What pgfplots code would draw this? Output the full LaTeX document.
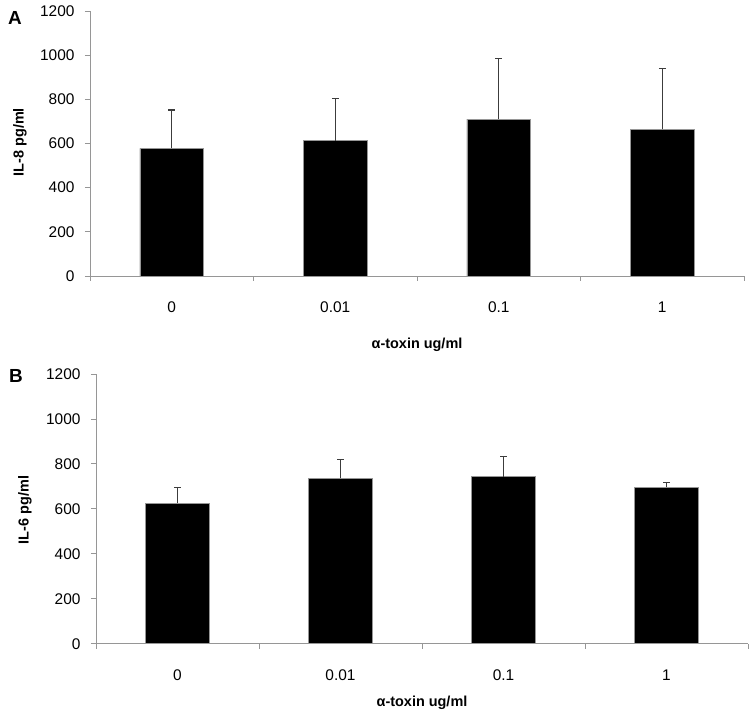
\documentclass[border=0pt]{standalone}
\usepackage{pgfplots}
\pgfplotsset{compat=1.18}
\usepackage{fontspec}
\setmainfont{Liberation Sans}
\definecolor{axgray}{RGB}{150,150,150}
\definecolor{errgray}{RGB}{60,60,60}
\pgfplotsset{
  panel/.style={
    scale only axis,
    anchor=south west,
    xmin=0, xmax=4,
    ymin=0, ymax=1200,
    ytick={0,200,...,1200},
    xtick={0.5,1.5,2.5,3.5},
    xticklabels={0,0.01,0.1,1},
    extra x ticks={0,1,2,3,4},
    extra x tick labels={},
    extra x tick style={major tick length=5bp, xtick style={draw=axgray, line width=0.8bp}},
    axis x line*=bottom,
    axis y line*=left,
    axis line style={axgray, line width=0.8bp, -},
    tick align=outside,
    major tick length=5bp,
    xtick style={draw=none},
    ytick style={axgray, line width=0.8bp},
    /pgf/number format/assume math mode=true,
    /pgf/number format/1000 sep={},
    tick label style={font=\fontsize{15.5}{15.5}\selectfont, text=black},
    yticklabel style={anchor=east, xshift=-7bp},
    xticklabel style={anchor=base, yshift=-32bp},
    xlabel={α-toxin ug/ml},
    ybar, bar width=0.39, bar shift=0pt,
    clip=false,
  },
  barstyle/.style={fill=black, draw=axgray, line width=0.6bp,
    error bars/.cd, y dir=plus, y explicit,
    error mark=-, error mark options={rotate=90, mark size=3.5bp, line width=1.2bp, errgray},
    error bar style={line width=1bp, errgray}},
}
\begin{document}
\begin{tikzpicture}
\useasboundingbox (0,0) rectangle (751bp,715bp);
% Panel A
\begin{axis}[panel,
  at={(90bp,439bp)}, width=654bp, height=265bp,
  ylabel={IL-8 pg/ml},
  every axis y label/.style={at={(axis description cs:-0.107,0.505)}, rotate=90, anchor=center, font=\bfseries\fontsize{14.5}{14.5}\selectfont},
  every axis x label/.style={at={(axis description cs:0.5,0)}, yshift=-69bp, anchor=center, font=\bfseries\fontsize{14.5}{14.5}\selectfont},
]
\addplot[barstyle] coordinates {
  (0.5,578) +- (0,174)
  (1.5,613) +- (0,189)
  (2.5,710) +- (0,274)
  (3.5,664) +- (0,277)
};
\end{axis}
\node[font=\bfseries\fontsize{19}{19}\selectfont, anchor=center] at (15bp,697bp) {A};
% Panel B
\begin{axis}[panel,
  at={(96bp,71.3bp)}, width=652bp, height=269.7bp,
  ylabel={IL-6 pg/ml},
  every axis y label/.style={at={(axis description cs:-0.109,0.496)}, rotate=90, anchor=center, font=\bfseries\fontsize{14.5}{14.5}\selectfont},
  every axis x label/.style={at={(axis description cs:0.5,0)}, yshift=-59bp, anchor=center, font=\bfseries\fontsize{14.5}{14.5}\selectfont},
]
\addplot[barstyle] coordinates {
  (0.5,625) +- (0,71)
  (1.5,736) +- (0,82)
  (2.5,743) +- (0,89)
  (3.5,696) +- (0,21)
};
\end{axis}
\node[font=\bfseries\fontsize{19}{19}\selectfont, anchor=center] at (16bp,339bp) {B};
\end{tikzpicture}
\end{document}
